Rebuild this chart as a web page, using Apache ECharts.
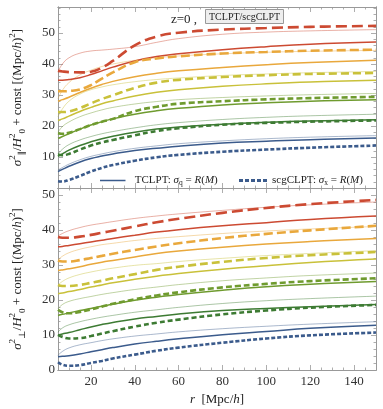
<!DOCTYPE html>
<html><head><meta charset="utf-8">
<script src="https://cdn.jsdelivr.net/npm/echarts@6/dist/echarts.min.js"></script>
<style>html,body{margin:0;padding:0;background:#fff}#c{width:383px;height:409px}</style>
</head><body><div id="c"></div>
<script>
// ---------- data ----------
const r = [5,7,10,15,20,25,30,40,50,60,80,100,120,150];
const xMajor = [20,40,60,80,100,120,140];
const xMinor = [5,10,15,25,30,35,45,50,55,65,70,75,85,90,95,105,110,115,125,130,135,145,150];
const yMajorTop = [10,20,30,40,50];
const yMajorBottom = [0,10,20,30,40,50];
const yMinorTop = [2,4,6,8,12,14,16,18,22,24,26,28,32,34,36,38,42,44,46,48,52,54,56,58];
const yMinorBottom = [2,4,6,8,12,14,16,18,22,24,26,28,32,34,36,38,42,44,46,48,52];

// top panel: sigma_parallel
const par_blue_thin     = [5.8,6.6,7.7,9.1,10.2,11,11.7,12.8,13.6,14.3,15.2,15.9,16.4,16.9];
const par_blue_solid    = [5.3,6,7,8.4,9.5,10.3,11,12.1,12.8,13.5,14.5,15.1,15.6,16.1];
const par_blue_dash     = [2.2,2.1,2.6,3.9,5.3,6.5,7.4,8.8,9.9,10.7,11.7,12.4,13,13.7];
const par_dkgreen_thin  = [11,12.5,14,15.5,16.6,17.5,18.2,19.4,20.4,21.1,22.1,22.8,23.3,23.8];
const par_dkgreen_solid = [10.2,11,12.2,13.7,14.9,15.9,16.7,18,19,19.7,20.6,21.2,21.6,22];
const par_dkgreen_dash  = [10.8,10.6,11,12.4,13.7,14.7,15.5,17,18.4,19.3,20.4,21,21.4,21.8];
const par_green_thin    = [18,19.8,21.3,23,24.2,25.2,26,27.1,27.9,28.5,29.2,29.7,30.1,30.5];
const par_green_solid   = [16,16.6,17.5,19,20.3,21.4,22.3,23.8,24.9,25.7,26.8,27.5,28,28.5];
const par_green_dash    = [17.7,17.5,17.8,19,20.3,21.4,22.3,24.8,26.2,27.2,28,28.6,29,29.4];
const par_yellow_thin   = [23,25.5,28,30.3,31.7,32.6,33.3,34.3,35,35.5,36.3,36.8,37.2,37.6];
const par_yellow_solid  = [21.8,22.3,23.2,24.7,26,27.2,28.1,29.7,30.9,31.7,32.8,33.6,34.2,34.8];
const par_yellow_dash   = [24.5,24.5,24.7,25.8,27.3,28.7,29.9,32.3,34,34.9,35.8,36.4,36.8,37.1];
const par_orange_thin   = [28.8,31.5,34,36.5,38,39.2,40,41.2,42,42.6,43.3,43.8,44.1,44.4];
const par_orange_solid  = [28,28.5,29.3,30.8,32.2,33.4,34.4,35.9,37,37.8,38.9,39.8,40.5,41.2];
const par_orange_dash   = [31.2,31.2,31.3,31.8,33.2,35.3,37.3,40.6,41.8,42.5,43.4,43.9,44.3,44.6];
const par_red_thin      = [37.5,40,42,43.5,44.2,44.5,44.8,45.6,47,48.2,49.6,50.3,50.7,51.1];
const par_red_solid     = [34.8,34.8,35,35.6,36.6,37.8,39,41,42.4,43.3,44.6,45.6,46.4,47.1];
const par_red_dash      = [37.8,37.6,37.4,37.3,37.5,38.8,41,46,48.9,50.1,51.1,51.6,52,52.3];

// bottom panel: sigma_perp
const perp_blue_thin     = [4.2,5.3,6.3,7.2,7.8,8.4,8.9,9.7,10.3,10.9,11.8,12.5,13.1,13.8];
const perp_blue_solid    = [3.8,3.9,4.1,4.6,5.2,5.8,6.4,7.4,8.2,8.9,10.1,11,11.9,12.8];
const perp_blue_dash     = [2.2,1.5,1.2,1.4,2,2.6,3.3,4.4,5.5,6.4,7.8,9,9.9,10.7];
const perp_dkgreen_thin  = [10.8,12,12.9,13.8,14.5,15.1,15.6,16.5,17.2,17.9,19,19.8,20.4,21.1];
const perp_dkgreen_solid = [10,10.3,10.7,11.5,12.3,13,13.6,14.6,15.3,16,17,17.6,18.1,18.7];
const perp_dkgreen_dash  = [10,9.4,9,9.1,9.7,10.4,11.1,12.4,13.5,14.4,15.9,17,17.8,18.6];
const perp_green_thin    = [17.5,18.7,19.6,20.4,21,21.6,22.1,23,23.7,24.4,25.5,26.3,27,27.7];
const perp_green_solid   = [15.6,15.9,16.3,17,17.6,18.2,18.8,19.9,20.8,21.6,22.8,23.8,24.5,25.3];
const perp_green_dash    = [17.2,16.5,16.2,16.6,17.3,18.1,18.9,20.2,21.3,22.2,23.6,24.6,25.4,26.2];
const perp_yellow_thin   = [24.3,25.3,26.3,27.3,28,28.6,29.1,29.9,30.4,31,31.9,32.7,33.3,34.1];
const perp_yellow_solid  = [21.8,22,22.4,23,23.7,24.3,24.9,25.9,26.8,27.6,28.8,29.8,30.7,31.7];
const perp_yellow_dash   = [24.3,24,24,24.3,24.9,25.5,26.2,27.4,28.6,29.5,30.9,32,32.8,33.7];
const perp_orange_thin   = [31.5,32.5,33.5,34.5,35.2,35.8,36.2,37,37.6,38.1,39,39.7,40.3,41];
const perp_orange_solid  = [28.4,28.6,28.9,29.5,30.2,30.8,31.3,32.3,33.3,34,35.1,36,36.7,37.6];
const perp_orange_dash   = [31.3,31,31,31.4,32,32.6,33.2,34.3,35.3,36.2,37.7,38.9,39.9,41.2];
const perp_red_thin      = [38.3,39,39.8,40.7,41.4,41.9,42.4,43.3,44,44.6,45.6,46.5,47.2,48];
const perp_red_solid     = [35.2,35.3,35.6,36.1,36.6,37.1,37.6,38.5,39.4,40.1,41.2,42.1,43,44];
const perp_red_dash      = [38,37.8,37.8,38.1,38.6,39.2,39.8,41,42.2,43.2,44.9,46.3,47.4,48.6];

// ---------- styles ----------
const colors = {blue:'#3b5b8c', dkgreen:'#3d7b33', green:'#6f9b2f', yellow:'#c9c13a', orange:'#e9a83c', red:'#cc4a32'};
const dashes = {blue:[4,2], dkgreen:[5,3], green:[6,3], yellow:[8,4], orange:[9,4], red:[11,5]};
const SERIF = '"Liberation Serif","DejaVu Serif",serif';
const FRAME = '#999';

const topSets = {
  blue:[par_blue_thin,par_blue_solid,par_blue_dash],
  dkgreen:[par_dkgreen_thin,par_dkgreen_solid,par_dkgreen_dash],
  green:[par_green_thin,par_green_solid,par_green_dash],
  yellow:[par_yellow_thin,par_yellow_solid,par_yellow_dash],
  orange:[par_orange_thin,par_orange_solid,par_orange_dash],
  red:[par_red_thin,par_red_solid,par_red_dash]
};
const botSets = {
  blue:[perp_blue_thin,perp_blue_solid,perp_blue_dash],
  dkgreen:[perp_dkgreen_thin,perp_dkgreen_solid,perp_dkgreen_dash],
  green:[perp_green_thin,perp_green_solid,perp_green_dash],
  yellow:[perp_yellow_thin,perp_yellow_solid,perp_yellow_dash],
  orange:[perp_orange_thin,perp_orange_solid,perp_orange_dash],
  red:[perp_red_thin,perp_red_solid,perp_red_dash]
};

function line(vals, key, kind, panel) {
  const c = colors[key];
  let ls;
  if (kind === 0) ls = {color:c, width:0.8, opacity:0.55};
  else if (kind === 1) ls = {color:c, width:1.5};
  else ls = {color:c, width:2.6, type:dashes[key], cap:'butt'};
  return {
    type:'line', xAxisIndex: panel*4, yAxisIndex: panel*4,
    data: r.map((x,i)=>[x, vals[i]]),
    showSymbol:false, symbol:'none', smooth:0.45,
    lineStyle: ls, silent:true, z: 2+kind, animation:false
  };
}

const series = [];
[topSets, botSets].forEach((sets, panel) => {
  for (const kind of [0,1,2]) {
    for (const key of Object.keys(sets)) series.push(line(sets[key][kind], key, kind, panel));
  }
});
// legend entries (no data)
series.push({type:'line', name:'TCLPT', xAxisIndex:0, yAxisIndex:0, data:[], symbol:'none',
  lineStyle:{color:colors.blue, width:1.5}, itemStyle:{color:colors.blue}});
series.push({type:'line', name:'scgCLPT', xAxisIndex:0, yAxisIndex:0, data:[], symbol:'none',
  lineStyle:{color:colors.blue, width:2.6, type:[4,2]}, itemStyle:{color:colors.blue}});

const labelStyle = {fontFamily:SERIF, fontSize:13, color:'#333'};

function xAx(grid, pos, ticks, len, labels) {
  return {type:'value', gridIndex:grid, position:pos, min:5, max:150,
    axisLine:{show:true, onZero:false, lineStyle:{color:FRAME, width:1}},
    axisTick:{show:true, inside:true, length:len, customValues:ticks, lineStyle:{color:FRAME, width:0.8}},
    axisLabel:Object.assign({show:labels, customValues:ticks, margin:5}, labelStyle),
    splitLine:{show:false}};
}
function yAx(grid, pos, ticks, len, labels, max) {
  return {type:'value', gridIndex:grid, position:pos, min:0, max:max,
    axisLine:{show:true, onZero:false, lineStyle:{color:FRAME, width:1}},
    axisTick:{show:true, inside:true, length:len, customValues:ticks, lineStyle:{color:FRAME, width:0.8}},
    axisLabel:Object.assign({show:labels, customValues:ticks, margin:3}, labelStyle),
    splitLine:{show:false}};
}

const nameRich = {
  n:{fontFamily:SERIF, fontSize:13, color:'#222', lineHeight:19},
  i:{fontFamily:SERIF, fontSize:13, fontStyle:'italic', color:'#222', lineHeight:19},
  s:{fontFamily:SERIF, fontSize:9, color:'#222', verticalAlign:'top', lineHeight:19},
  b:{fontFamily:SERIF, fontSize:9, color:'#222', verticalAlign:'bottom', lineHeight:19}
};

const xAxes = [
  xAx(0,'bottom',xMajor,5,false), xAx(0,'bottom',xMinor,2.5,false),
  xAx(0,'top',xMajor,5,false), xAx(0,'top',xMinor,2.5,false),
  xAx(1,'bottom',xMajor,5,true), xAx(1,'bottom',xMinor,2.5,false),
  xAx(1,'top',xMajor,5,false), xAx(1,'top',xMinor,2.5,false)
];
xAxes[4].name = '{i|r}{n|  [Mpc/}{i|h}{n|]}';
xAxes[4].nameLocation = 'middle';
xAxes[4].nameGap = 20;
xAxes[4].nameTextStyle = {rich:nameRich};

const yAxes = [
  yAx(0,'left',yMajorTop,5,true,58.4), yAx(0,'left',yMinorTop,2.5,false,58.4),
  yAx(0,'right',yMajorTop,5,false,58.4), yAx(0,'right',yMinorTop,2.5,false,58.4),
  yAx(1,'left',yMajorBottom,5,true,52), yAx(1,'left',yMinorBottom,2.5,false,52),
  yAx(1,'right',yMajorBottom,5,false,52), yAx(1,'right',yMinorBottom,2.5,false,52)
];
yAxes[0].name = '{i|σ}{s|2}{b|∥}{n|/}{i|H}{s|2}{b|0}{n| + const [(Mpc/}{i|h}{n|)}{s|2}{n|]}';
yAxes[4].name = '{i|σ}{s|2}{b|⊥}{n|/}{i|H}{s|2}{b|0}{n| + const [(Mpc/}{i|h}{n|)}{s|2}{n|]}';
[0,4].forEach(k => {
  yAxes[k].nameLocation = 'middle';
  yAxes[k].nameGap = 31;
  yAxes[k].nameRotate = 90;
  yAxes[k].nameTextStyle = {rich:nameRich};
});

const legendRich = {
  n:{fontFamily:SERIF, fontSize:11, color:'#222', lineHeight:14},
  i:{fontFamily:SERIF, fontSize:11, fontStyle:'italic', color:'#222', lineHeight:14},
  b:{fontFamily:SERIF, fontSize:7.5, color:'#222', verticalAlign:'bottom', lineHeight:14}
};
const solidIcon = 'path://M0,0h34v2h-34z';
const dashIcon = 'path://M0,0h4v3h-4zM6,0h4v3h-4zM12,0h4v3h-4zM18,0h4v3h-4zM24,0h4v3h-4z';

const option = {
  animation:false,
  backgroundColor:'#fff',
  title:[
    {text:'z=0 ,', left:166, top:8, textStyle:{fontFamily:SERIF, fontSize:13, fontWeight:'normal', color:'#222'}},
    {text:'TCLPT/scgCLPT', left:205, top:9, backgroundColor:'#eeeeee', borderColor:'#999', borderWidth:1, padding:[3,4,2,4],
     textStyle:{fontFamily:SERIF, fontSize:10, fontWeight:'normal', color:'#222'}}
  ],
  legend:[
    {left:95, top:170, itemWidth:34, itemHeight:1.5, itemGap:5,
     data:[{name:'TCLPT', icon:solidIcon}],
     formatter: () => '{n|TCLPT: }{i|σ}{b|q}{n| = }{i|R}{n|(}{i|M}{n|)}',
     textStyle:{rich:legendRich}},
    {left:234, top:170, itemWidth:28, itemHeight:3,
     data:[{name:'scgCLPT', icon:dashIcon, itemStyle:{color:colors.blue}}],
     formatter: () => '{n|scgCLPT: }{i|σ}{b|x}{n| = }{i|R}{n|(}{i|M}{n|)}',
     textStyle:{rich:legendRich}}
  ],
  grid:[
    {left:51, top:7, width:325, height:181, containLabel:false},
    {left:51, top:188, width:325, height:182, containLabel:false}
  ],
  xAxis:xAxes,
  yAxis:yAxes,
  series:series
};
const chart = echarts.init(document.getElementById('c'), null, {renderer:'canvas'});
chart.setOption(option);
</script></body></html>
